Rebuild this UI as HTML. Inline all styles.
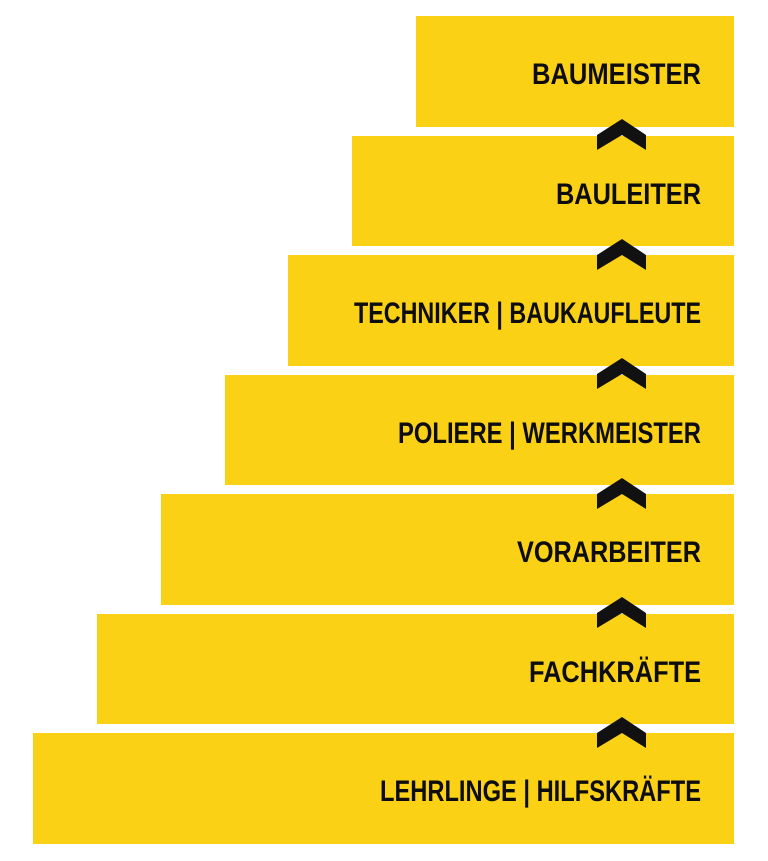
<!DOCTYPE html>
<html><head><meta charset="utf-8"><style>
html,body{margin:0;padding:0;background:#fff;}
svg{display:block;}
text{font-family:"Liberation Sans",sans-serif;font-weight:bold;font-size:30px;fill:#0d0d0d;}
</style></head><body>
<svg width="768" height="861" viewBox="0 0 768 861">
<g fill="#fbd116">
<rect x="416" y="16" width="318" height="111"/>
<rect x="352" y="136" width="382" height="110"/>
<rect x="288" y="255" width="446" height="111"/>
<rect x="225" y="375" width="509" height="110"/>
<rect x="161" y="494" width="573" height="111"/>
<rect x="97" y="614" width="637" height="110"/>
<rect x="33" y="733" width="701" height="111"/>
</g>
<g fill="#111">
<polygon points="597,135 622,119 646,135 646,150 622,135 597,150"/>
<polygon points="597,255 622,239 646,255 646,270 622,255 597,270"/>
<polygon points="597,374 622,358 646,374 646,389 622,374 597,389"/>
<polygon points="597,494 622,478 646,494 646,509 622,494 597,509"/>
<polygon points="597,613 622,597 646,613 646,628 622,613 597,628"/>
<polygon points="597,733 622,717 646,733 646,748 622,733 597,748"/>
</g>
<text x="532" y="84" textLength="169" lengthAdjust="spacingAndGlyphs">BAUMEISTER</text>
<text x="556" y="204" textLength="145" lengthAdjust="spacingAndGlyphs">BAULEITER</text>
<text x="354" y="323" textLength="347" lengthAdjust="spacingAndGlyphs">TECHNIKER | BAUKAUFLEUTE</text>
<text x="398" y="443" textLength="303" lengthAdjust="spacingAndGlyphs">POLIERE | WERKMEISTER</text>
<text x="517" y="562" textLength="184" lengthAdjust="spacingAndGlyphs">VORARBEITER</text>
<text x="529" y="682" textLength="172" lengthAdjust="spacingAndGlyphs">FACHKRÄFTE</text>
<text x="380" y="801" textLength="321" lengthAdjust="spacingAndGlyphs">LEHRLINGE | HILFSKRÄFTE</text>
</svg>
</body></html>
